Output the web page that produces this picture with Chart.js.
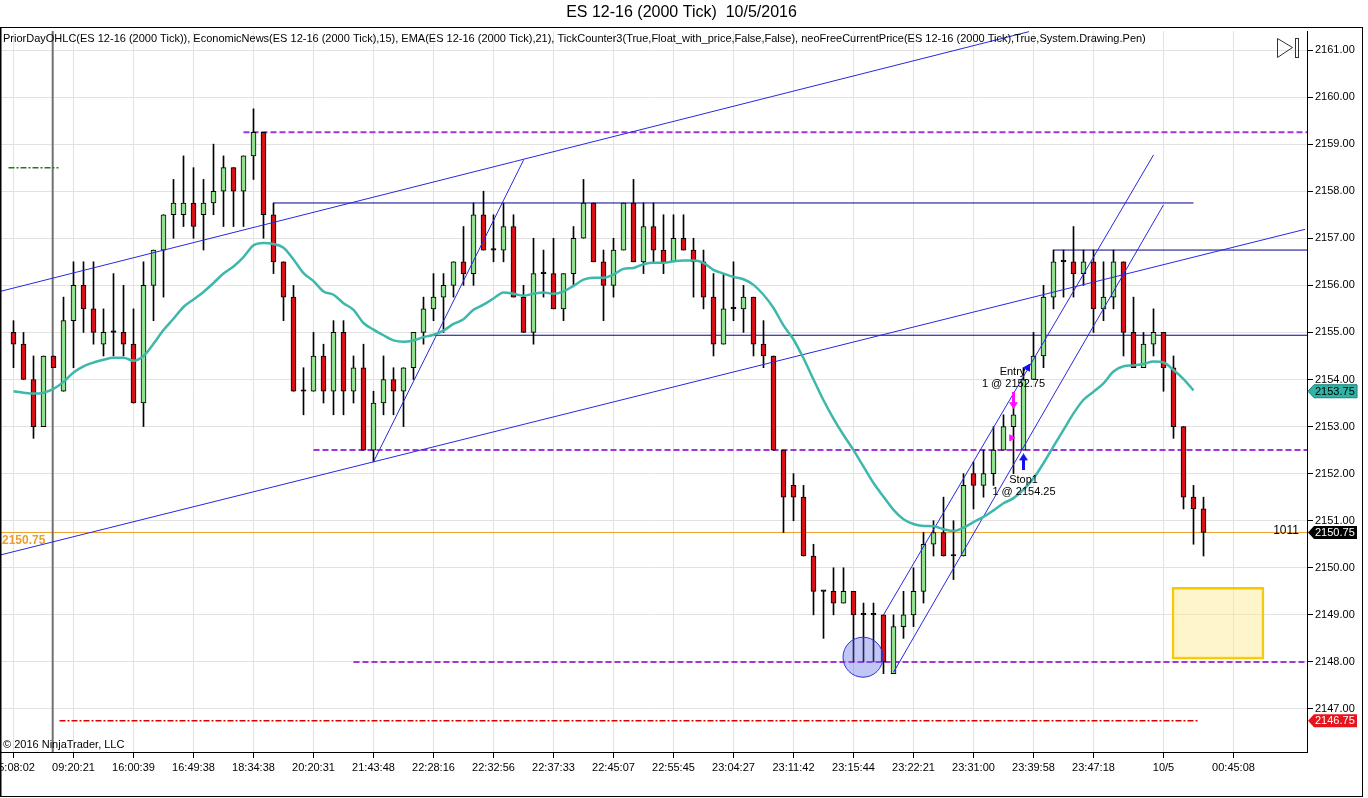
<!DOCTYPE html>
<html>
<head>
<meta charset="utf-8">
<title>ES 12-16 (2000 Tick)</title>
<script src="https://cdn.jsdelivr.net/npm/chart.js@4.4.1/dist/chart.umd.min.js"></script>
<style>
html, body { margin: 0; padding: 0; background: #fff; overflow: hidden; }
#wrap { width: 1368px; height: 798px; }
</style>
</head>
<body>
<div id="wrap"><canvas id="canvas"></canvas></div>
<script>
// candles (0.25 tick size)
const opens = [
  2155.0, 2154.75, 2154.0, 2153.0, 2154.5, 2153.75, 2155.25, 2156.0, 2155.5, 2154.75,
  2155.0, 2155.0, 2154.75, 2153.5, 2156.0, 2156.75, 2157.5, 2157.5, 2157.75, 2157.5,
  2157.75, 2158.0, 2158.5, 2158.0, 2158.75, 2159.25, 2157.5, 2156.5, 2155.75, 2153.75,
  2153.75, 2154.5, 2153.75, 2155.0, 2153.75, 2154.25, 2152.5, 2153.5, 2154.0, 2153.75,
  2154.25, 2155.0, 2155.5, 2155.75, 2156.0, 2156.5, 2156.25, 2157.5, 2156.75, 2156.75,
  2157.25, 2155.75, 2155.0, 2156.25, 2156.25, 2155.5, 2156.25, 2157.0, 2157.75, 2156.5,
  2156.0, 2156.75, 2157.75, 2156.5, 2157.25, 2156.75, 2156.5, 2157.0, 2156.75, 2156.5,
  2155.75, 2154.75, 2155.5, 2155.5, 2155.75, 2154.75, 2154.5, 2152.5, 2151.75, 2151.5,
  2150.25, 2149.5, 2149.5, 2149.25, 2149.5, 2149.0, 2149.0, 2149.0, 2147.75, 2148.75,
  2149.0, 2149.5, 2150.5, 2150.75, 2150.25, 2150.25, 2152.0, 2151.75, 2152.0, 2152.5,
  2153.0, 2152.5, 2154.0, 2154.5, 2155.75, 2156.5, 2156.5, 2156.25, 2156.5, 2155.5,
  2155.75, 2156.5, 2155.0, 2154.25, 2154.75, 2155.0, 2154.25, 2153.0, 2151.5, 2151.25
];
const highs = [
  2155.25, 2155.0, 2154.5, 2154.5, 2154.5, 2155.75, 2156.5, 2156.5, 2156.5, 2155.5,
  2156.25, 2156.0, 2155.5, 2156.5, 2156.75, 2157.5, 2158.25, 2158.75, 2158.5, 2158.25,
  2159.0, 2158.75, 2158.5, 2158.75, 2159.75, 2159.25, 2157.75, 2156.5, 2156.0, 2154.25,
  2155.0, 2154.75, 2155.25, 2155.25, 2154.5, 2154.75, 2153.75, 2154.5, 2154.25, 2154.25,
  2155.0, 2155.75, 2156.25, 2156.25, 2156.5, 2157.25, 2157.75, 2158.0, 2157.5, 2157.75,
  2157.5, 2156.0, 2157.0, 2156.75, 2157.0, 2156.25, 2157.25, 2158.25, 2157.75, 2156.75,
  2157.0, 2157.75, 2158.25, 2157.75, 2157.75, 2157.5, 2157.5, 2157.5, 2157.0, 2156.75,
  2156.25, 2156.25, 2156.5, 2156.0, 2155.75, 2155.25, 2154.5, 2152.5, 2152.0, 2151.75,
  2150.5, 2149.5, 2150.0, 2150.0, 2149.5, 2149.25, 2149.25, 2149.0, 2149.0, 2149.5,
  2150.0, 2150.75, 2151.0, 2151.5, 2151.0, 2152.0, 2152.25, 2152.5, 2153.0, 2153.25,
  2153.5, 2154.25, 2155.0, 2156.0, 2156.75, 2156.75, 2157.25, 2156.75, 2156.75, 2156.5,
  2156.75, 2156.5, 2155.75, 2155.0, 2155.5, 2155.0, 2154.5, 2153.0, 2151.75, 2151.5
];
const lows = [
  2154.25, 2154.0, 2152.75, 2153.0, 2154.25, 2153.75, 2154.25, 2155.0, 2154.75, 2154.5,
  2154.5, 2154.5, 2153.5, 2153.0, 2155.25, 2155.75, 2157.0, 2157.25, 2157.0, 2156.75,
  2157.5, 2157.25, 2157.25, 2157.25, 2158.25, 2157.0, 2156.25, 2155.25, 2153.75, 2153.25,
  2153.75, 2153.5, 2153.25, 2153.25, 2153.5, 2152.5, 2152.25, 2153.25, 2153.25, 2153.0,
  2154.0, 2154.75, 2155.25, 2155.0, 2155.75, 2156.0, 2156.0, 2156.75, 2156.5, 2156.5,
  2155.75, 2155.0, 2154.75, 2155.75, 2155.5, 2155.25, 2156.0, 2157.0, 2156.5, 2155.25,
  2155.75, 2156.75, 2156.5, 2156.25, 2156.5, 2156.25, 2156.5, 2156.75, 2155.75, 2155.5,
  2154.5, 2154.75, 2155.25, 2155.0, 2154.5, 2154.25, 2152.5, 2150.75, 2151.0, 2150.25,
  2149.0, 2148.5, 2149.0, 2149.25, 2148.0, 2148.0, 2148.0, 2147.75, 2147.75, 2148.5,
  2148.75, 2149.25, 2150.25, 2150.25, 2149.75, 2150.25, 2151.25, 2151.5, 2151.75, 2152.5,
  2152.0, 2152.5, 2154.0, 2154.25, 2155.5, 2155.75, 2155.75, 2156.0, 2155.0, 2155.25,
  2155.5, 2154.5, 2154.25, 2154.25, 2154.5, 2153.75, 2152.75, 2151.25, 2150.5, 2150.25
];
const closes = [
  2154.75, 2154.0, 2153.0, 2154.5, 2154.25, 2155.25, 2156.0, 2155.5, 2155.0, 2155.0,
  2155.0, 2154.75, 2153.5, 2156.0, 2156.75, 2157.5, 2157.75, 2157.75, 2157.25, 2157.75,
  2158.0, 2158.5, 2158.0, 2158.75, 2159.25, 2157.5, 2156.5, 2155.75, 2153.75, 2153.75,
  2154.5, 2153.75, 2155.0, 2153.75, 2154.25, 2152.5, 2153.5, 2154.0, 2153.75, 2154.25,
  2155.0, 2155.5, 2155.75, 2156.0, 2156.5, 2156.25, 2157.5, 2156.75, 2156.75, 2157.25,
  2155.75, 2155.0, 2156.25, 2156.25, 2155.5, 2156.25, 2157.0, 2157.75, 2156.5, 2156.0,
  2156.75, 2157.75, 2156.5, 2157.25, 2156.75, 2156.5, 2157.0, 2156.75, 2156.5, 2155.75,
  2154.75, 2155.5, 2155.5, 2155.75, 2154.75, 2154.5, 2152.5, 2151.5, 2151.5, 2150.25,
  2149.5, 2149.5, 2149.25, 2149.5, 2149.0, 2149.0, 2149.0, 2148.0, 2148.75, 2149.0,
  2149.5, 2150.5, 2150.75, 2150.25, 2150.25, 2151.75, 2151.75, 2152.0, 2152.5, 2153.0,
  2153.25, 2154.0, 2154.5, 2155.75, 2156.5, 2156.5, 2156.25, 2156.5, 2155.5, 2155.75,
  2156.5, 2155.0, 2154.25, 2154.75, 2155.0, 2154.25, 2153.0, 2151.5, 2151.25, 2150.75
];
// EMA(21) as drawn on the chart
const emaVals = [
  2153.75, 2153.72, 2153.70, 2153.72, 2153.80, 2153.95, 2154.15, 2154.28, 2154.36, 2154.42,
  2154.46, 2154.46, 2154.40, 2154.50, 2154.76, 2155.05, 2155.29, 2155.54, 2155.70, 2155.86,
  2156.05, 2156.25, 2156.40, 2156.60, 2156.85, 2156.90, 2156.88, 2156.80, 2156.55, 2156.26,
  2156.09, 2155.87, 2155.80, 2155.62, 2155.48, 2155.20, 2155.06, 2154.94, 2154.83, 2154.80,
  2154.83, 2154.90, 2154.95, 2155.04, 2155.18, 2155.28, 2155.48, 2155.59, 2155.72, 2155.85,
  2155.82, 2155.78, 2155.82, 2155.85, 2155.82, 2155.87, 2155.99, 2156.12, 2156.16, 2156.16,
  2156.23, 2156.35, 2156.37, 2156.45, 2156.48, 2156.48, 2156.51, 2156.53, 2156.53, 2156.48,
  2156.33, 2156.25, 2156.18, 2156.13, 2156.01, 2155.80, 2155.52, 2155.15, 2154.85, 2154.45,
  2154.00, 2153.56, 2153.17, 2152.82, 2152.50, 2152.15, 2151.80, 2151.51, 2151.23, 2151.03,
  2150.93, 2150.89, 2150.88, 2150.82, 2150.78, 2150.85, 2150.97, 2151.08, 2151.22, 2151.37,
  2151.48, 2151.66, 2151.90, 2152.22, 2152.58, 2152.93, 2153.28, 2153.57, 2153.74, 2153.92,
  2154.17, 2154.28, 2154.30, 2154.33, 2154.38, 2154.36, 2154.20, 2154.01, 2153.77
];

// time axis
const xTickIdx = [0, 6, 12, 18, 24, 30, 36, 42, 48, 54, 60, 66, 72, 78, 84, 90, 96, 102, 108, 115, 122];
const xTickLabels = ['15:08:02', '09:20:21', '16:00:39', '16:49:38', '18:34:38', '20:20:31', '21:43:48',
  '22:28:16', '22:32:56', '22:37:33', '22:45:07', '22:55:45', '23:04:27', '23:11:42', '23:15:44',
  '23:22:21', '23:31:00', '23:39:58', '23:47:18', '10/5', '00:45:08'];

// drawn levels and objects (bar index / price)
const purpleLevels = [2159.25, 2152.5, 2148.0];
const purpleFrom = [23, 30, 34];
const navyLevels = [2157.75, 2154.94, 2156.75];
const navyFrom = [26, 42, 104];
const navyTo = [118, 130, 130];
const trendFrom = [[-1.35, 2155.87], [-1.35, 2150.27], [36, 2152.25], [87, 2149.0], [88, 2147.78]];
const trendTo = [[101.55, 2161.39], [129.15, 2157.19], [51, 2158.66], [114, 2158.77], [115, 2157.71]];
const priorClose = 2146.75;      // red dash-dot
const priorClosePos = [4.6, 118.4];
const priorOther = 2158.5;       // green dash-dot
const priorOtherPos = [-0.5, 4.5];
const sessionBreak = 3.92;
const circleAt = [84.95, 2148.1];
const boxRange = [2148.06, 2149.585];
const boxAt = 120.45;
const entryArrow = [100, 2153.55];
const stopArrow = [101, 2152.25];
const fillMark = [99.8, 2152.76];
const orderMark = [101.4, 2154.25];
const tickCount = '1011';

const FONT = '"Liberation Sans", Arial, sans-serif';
Chart.defaults.font.family = FONT;
Chart.defaults.color = '#000';

const last = closes.length - 1;
const idx = closes.map((c, i) => i);
const bodyColors = closes.map((c, i) => c > opens[i] ? '#90e090' : (c < opens[i] ? '#d81018' : '#000'));

function hline(y, x0, x1, color, width, dash, order) {
  return {
    type: 'line', data: [{ x: x0, y: y }, { x: x1, y: y }],
    borderColor: color, borderWidth: width, borderDash: dash || [],
    pointRadius: 0, fill: false, order: order
  };
}

function arrowImg(color, down) {
  const c = document.createElement('canvas');
  c.width = 9; c.height = 17;
  const g = c.getContext('2d');
  g.fillStyle = color;
  g.beginPath();
  if (down) {
    g.moveTo(3, 0); g.lineTo(6, 0); g.lineTo(6, 10); g.lineTo(9, 10);
    g.lineTo(4.5, 17); g.lineTo(0, 10); g.lineTo(3, 10);
  } else {
    g.moveTo(4.5, 0); g.lineTo(9, 7); g.lineTo(6, 7); g.lineTo(6, 17);
    g.lineTo(3, 17); g.lineTo(3, 7); g.lineTo(0, 7);
  }
  g.closePath();
  g.fill();
  return c;
}

const datasets = [];
// yellow box
datasets.push({
  type: 'bar', data: [{ x: boxAt, y: boxRange }], grouped: false, barThickness: 92,
  backgroundColor: 'rgba(255, 232, 140, 0.45)', borderColor: '#f5c800', borderWidth: 2,
  borderSkipped: false, order: 20
});
// price level lines
datasets.push(hline(closes[last], -2, 131, '#f0a030', 1, null, 12));
purpleLevels.forEach((p, k) => datasets.push(hline(p, purpleFrom[k], 131, '#a035d8', 2, [6, 3], 11)));
datasets.push(hline(priorClose, priorClosePos[0], priorClosePos[1], '#e00000', 1.5, [6, 2, 2, 2], 11));
datasets.push(hline(priorOther, priorOtherPos[0], priorOtherPos[1], '#1f7a1f', 1.5, [6, 2, 2, 2], 11));
navyLevels.forEach((p, k) => datasets.push(hline(p, navyFrom[k], navyTo[k], '#000090', 1, null, 11)));
datasets.push({
  type: 'line', data: [{ x: sessionBreak, y: 2140 }, { x: sessionBreak, y: 2165 }],
  borderColor: '#707070', borderWidth: 2, pointRadius: 0, fill: false, order: 11
});
// wicks and bodies
datasets.push({
  type: 'bar', data: idx.map(i => ({ x: i, y: [lows[i], highs[i]] })), grouped: false,
  barThickness: 1, backgroundColor: '#000', borderWidth: 0, order: 9
});
datasets.push({
  type: 'bar', data: idx.map(i => ({ x: i, y: [opens[i], closes[i]] })), grouped: false,
  barThickness: 5, minBarLength: 1.5, backgroundColor: bodyColors, borderColor: '#000',
  borderWidth: 1, borderSkipped: false, order: 8
});
// trend lines
trendFrom.forEach((a, k) => datasets.push({
  type: 'line', data: [{ x: a[0], y: a[1] }, { x: trendTo[k][0], y: trendTo[k][1] }],
  borderColor: '#2828e0', borderWidth: 1, pointRadius: 0, fill: false, order: 6
}));
// EMA
datasets.push({
  type: 'line', data: emaVals.map((v, i) => ({ x: i, y: v })),
  borderColor: '#3db8aa', borderWidth: 2.5, pointRadius: 0, fill: false,
  cubicInterpolationMode: 'monotone', order: 5
});
// circle and trade markers
datasets.push({
  type: 'line', showLine: false, data: [{ x: circleAt[0], y: circleAt[1] }],
  pointRadius: 20, pointBackgroundColor: 'rgba(95, 105, 235, 0.38)', pointBorderColor: '#3030d8',
  pointBorderWidth: 1, order: 2
});
datasets.push({
  type: 'line', showLine: false, data: [{ x: entryArrow[0], y: entryArrow[1] }],
  pointStyle: arrowImg('#ff10ff', true), pointRadius: 5, order: 1
});
datasets.push({
  type: 'line', showLine: false, data: [{ x: stopArrow[0], y: stopArrow[1] }],
  pointStyle: arrowImg('#1010f0', false), pointRadius: 5, order: 1
});
datasets.push({
  type: 'line', showLine: false, data: [{ x: fillMark[0], y: fillMark[1] }],
  pointStyle: 'triangle', rotation: 90, pointRadius: 3.5, pointBackgroundColor: '#ff10ff',
  pointBorderColor: '#ff10ff', order: 1
});
datasets.push({
  type: 'line', showLine: false, data: [{ x: orderMark[0], y: orderMark[1] }],
  pointStyle: 'triangle', rotation: 30, pointRadius: 4, pointBackgroundColor: '#1010f0',
  pointBorderColor: '#1010f0', order: 1
});

function axisTag(ctx, y, text, bg, fg, edge) {
  const x0 = 1308, x1 = 1314, x2 = 1357, h = 13;
  ctx.beginPath();
  ctx.moveTo(x0, y);
  ctx.lineTo(x1, y - h / 2);
  ctx.lineTo(x2, y - h / 2);
  ctx.lineTo(x2, y + h / 2);
  ctx.lineTo(x1, y + h / 2);
  ctx.closePath();
  ctx.fillStyle = bg;
  ctx.fill();
  if (edge) { ctx.strokeStyle = edge; ctx.lineWidth = 1; ctx.stroke(); }
  ctx.fillStyle = fg;
  ctx.font = '11px ' + FONT;
  ctx.textAlign = 'left';
  ctx.textBaseline = 'middle';
  ctx.fillText(text, 1315, y + 0.5);
}

const overlay = {
  id: 'overlay',
  afterDatasetsDraw(chart) {
    const ctx = chart.ctx, xs = chart.scales.x, ys = chart.scales.y;
    const area = chart.chartArea;
    ctx.save();
    ctx.beginPath();
    ctx.rect(area.left, area.top, area.right - area.left, area.bottom - area.top);
    ctx.clip();
    ctx.fillStyle = '#000';
    ctx.font = '11px ' + FONT;
    ctx.textAlign = 'left';
    ctx.textBaseline = 'middle';
    ctx.fillText('PriorDayOHLC(ES 12-16 (2000 Tick)), EconomicNews(ES 12-16 (2000 Tick),15), EMA(ES 12-16 (2000 Tick),21), TickCounter3(True,Float_with_price,False,False), neoFreeCurrentPrice(ES 12-16 (2000 Tick),True,System.Drawing.Pen)', 3, 39);
    ctx.fillText('\u00a9 2016 NinjaTrader, LLC', 3, 745);
    // trade labels
    ctx.textAlign = 'center';
    ctx.fillText('Entry', xs.getPixelForValue(99.9), ys.getPixelForValue(2154.16));
    ctx.fillText('1 @ 2152.75', xs.getPixelForValue(100), ys.getPixelForValue(2153.9));
    ctx.fillText('Stop1', xs.getPixelForValue(101), ys.getPixelForValue(2151.87));
    ctx.fillText('1 @ 2154.25', xs.getPixelForValue(101.05), ys.getPixelForValue(2151.61));
    // current price text at left and tick counter at right
    const yp = ys.getPixelForValue(closes[last]);
    ctx.textAlign = 'left';
    ctx.font = 'bold 12px ' + FONT;
    ctx.fillStyle = '#e8a030';
    ctx.fillText(closes[last].toFixed(2), 2, yp + 8);
    ctx.font = '12px ' + FONT;
    ctx.fillStyle = '#000';
    ctx.textAlign = 'right';
    ctx.fillText(tickCount, 1299, yp - 2);
    // play-to-end icon
    ctx.strokeStyle = '#333';
    ctx.lineWidth = 1;
    ctx.beginPath();
    ctx.moveTo(1277.5, 38.5); ctx.lineTo(1292.5, 47.5); ctx.lineTo(1277.5, 57.5); ctx.closePath();
    ctx.stroke();
    ctx.strokeRect(1295.5, 38.5, 3, 19);
    ctx.restore();
  },
  afterDraw(chart) {
    const ctx = chart.ctx, ys = chart.scales.y;
    ctx.save();
    const emaLast = Math.round(emaVals[emaVals.length - 1] * 4) / 4;
    axisTag(ctx, ys.getPixelForValue(emaLast), emaLast.toFixed(2), '#2fb3a6', '#000', '#1d7f76');
    axisTag(ctx, ys.getPixelForValue(closes[last]), closes[last].toFixed(2), '#000', '#fff');
    axisTag(ctx, ys.getPixelForValue(priorClose), priorClose.toFixed(2), '#e8141c', '#fff');
    ctx.strokeStyle = '#000';
    ctx.lineWidth = 1;
    ctx.strokeRect(0.5, 27.5, 1362, 769);
    ctx.beginPath();
    ctx.moveTo(1, 27); ctx.lineTo(1, 797);
    ctx.stroke();
    ctx.restore();
  }
};

new Chart(document.getElementById('canvas'), {
  type: 'bar',
  data: { datasets: datasets },
  plugins: [overlay],
  options: {
    responsive: true,
    maintainAspectRatio: false,
    animation: false,
    events: [],
    layout: { autoPadding: false, padding: { left: 0, right: 5, top: 0, bottom: 1 } },
    plugins: {
      legend: { display: false },
      tooltip: { enabled: false },
      title: {
        display: true,
        text: 'ES 12-16 (2000 Tick)  10/5/2016',
        color: '#000',
        font: { size: 16, weight: 'normal', lineHeight: 1.25 },
        padding: { top: 3, bottom: 8 }
      }
    },
    scales: {
      x: {
        type: 'linear',
        min: -1.35,
        max: 129.35,
        offset: false,
        afterBuildTicks(s) { s.ticks = xTickIdx.map(v => ({ value: v })); },
        afterFit(s) { s.height = 45; s.paddingLeft = 0; s.paddingRight = 0; },
        ticks: {
          autoSkip: false, maxRotation: 0, minRotation: 0, padding: 3,
          font: { size: 11 }, color: '#000',
          callback: (v, i) => xTickLabels[i]
        },
        grid: { color: '#e2e2e2', offset: false, tickLength: 6, tickColor: '#000', tickWidth: 1 },
        border: { color: '#000', width: 1 }
      },
      y: {
        type: 'linear',
        position: 'right',
        min: 2146.0861,
        max: 2161.4037,
        beginAtZero: false,
        afterFit(s) { s.width = 56; s.paddingTop = 0; s.paddingBottom = 0; },
        ticks: {
          stepSize: 1, includeBounds: false, padding: 2,
          font: { size: 11 }, color: '#000',
          callback: v => Number(v).toFixed(2)
        },
        grid: { color: '#e2e2e2', tickLength: 6, tickColor: '#000', tickWidth: 1 },
        border: { color: '#000', width: 1 }
      }
    }
  }
});
</script>
</body>
</html>
